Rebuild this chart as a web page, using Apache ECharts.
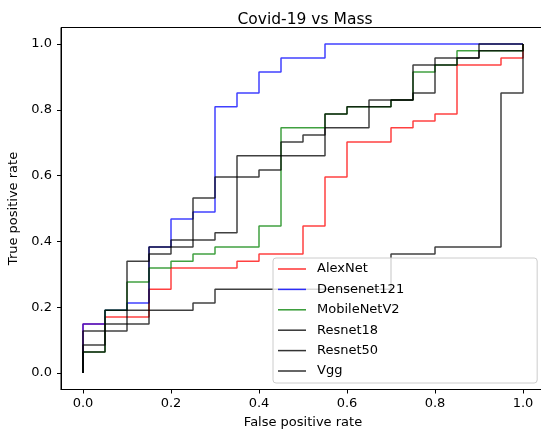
<!DOCTYPE html>
<html>
<head>
<meta charset="utf-8">
<script src="https://cdn.jsdelivr.net/npm/echarts@6/dist/echarts.min.js"></script>
<style>
  html, body { margin: 0; padding: 0; background: #fff; }
  #main { width: 541px; height: 434px; }
</style>
</head>
<body>
<div id="main"></div>
<script>
// ROC corner points (fpr, tpr)
const alexnetFpr = [0, 0, 0.05, 0.05, 0.15, 0.15, 0.2, 0.2, 0.35, 0.35, 0.4, 0.4, 0.5, 0.5, 0.55, 0.55, 0.6, 0.6, 0.7, 0.7, 0.75, 0.75, 0.8, 0.8, 0.85, 0.85, 0.95, 0.95, 1, 1]
const alexnetTpr = [0, 0.149, 0.149, 0.170, 0.170, 0.255, 0.255, 0.319, 0.319, 0.340, 0.340, 0.362, 0.362, 0.447, 0.447, 0.596, 0.596, 0.702, 0.702, 0.745, 0.745, 0.766, 0.766, 0.787, 0.787, 0.936, 0.936, 0.957, 0.957, 1]

const densenetFpr = [0, 0, 0.05, 0.05, 0.1, 0.1, 0.15, 0.15, 0.2, 0.2, 0.25, 0.25, 0.3, 0.3, 0.35, 0.35, 0.4, 0.4, 0.45, 0.45, 0.55, 0.55, 1]
const densenetTpr = [0, 0.149, 0.149, 0.191, 0.191, 0.213, 0.213, 0.383, 0.383, 0.468, 0.468, 0.489, 0.489, 0.809, 0.809, 0.851, 0.851, 0.915, 0.915, 0.957, 0.957, 1, 1]

const mobilenetFpr = [0, 0, 0.05, 0.05, 0.1, 0.1, 0.15, 0.15, 0.2, 0.2, 0.25, 0.25, 0.3, 0.3, 0.4, 0.4, 0.45, 0.45, 0.55, 0.55, 0.6, 0.6, 0.7, 0.7, 0.75, 0.75, 0.8, 0.8, 0.85, 0.85, 1, 1]
const mobilenetTpr = [0, 0.064, 0.064, 0.191, 0.191, 0.277, 0.277, 0.319, 0.319, 0.340, 0.340, 0.362, 0.362, 0.383, 0.383, 0.447, 0.447, 0.745, 0.745, 0.787, 0.787, 0.809, 0.809, 0.830, 0.830, 0.915, 0.915, 0.936, 0.936, 0.979, 0.979, 1]

const resnet18Fpr = [0, 0, 0.1, 0.1, 0.15, 0.15, 0.2, 0.2, 0.3, 0.3, 0.35, 0.35, 0.55, 0.55, 0.65, 0.65, 0.75, 0.75, 0.8, 0.8, 0.9, 0.9, 1]
const resnet18Tpr = [0, 0.128, 0.128, 0.340, 0.340, 0.362, 0.362, 0.404, 0.404, 0.426, 0.426, 0.660, 0.660, 0.745, 0.745, 0.830, 0.830, 0.851, 0.851, 0.957, 0.957, 1, 1]

const resnet50Fpr = [0, 0, 0.05, 0.05, 0.15, 0.15, 0.25, 0.25, 0.3, 0.3, 0.4, 0.4, 0.45, 0.45, 0.5, 0.5, 0.55, 0.55, 0.6, 0.6, 0.7, 0.7, 0.75, 0.75, 0.85, 0.85, 0.9, 0.9, 1, 1]
const resnet50Tpr = [0, 0.085, 0.085, 0.149, 0.149, 0.383, 0.383, 0.532, 0.532, 0.596, 0.596, 0.617, 0.617, 0.702, 0.702, 0.723, 0.723, 0.787, 0.787, 0.809, 0.809, 0.830, 0.830, 0.936, 0.936, 0.957, 0.957, 0.979, 0.979, 1]

const vggFpr = [0, 0, 0.05, 0.05, 0.25, 0.25, 0.3, 0.3, 0.7, 0.7, 0.8, 0.8, 0.95, 0.95, 1, 1]
const vggTpr = [0, 0.064, 0.064, 0.191, 0.191, 0.213, 0.213, 0.255, 0.255, 0.362, 0.362, 0.383, 0.383, 0.851, 0.851, 1]

const tickValues = [0, 0.2, 0.4, 0.6, 0.8, 1.0]

const models = [
  { name: 'AlexNet', color: '#ff0000', fpr: alexnetFpr, tpr: alexnetTpr },
  { name: 'Densenet121', color: '#0000ff', fpr: densenetFpr, tpr: densenetTpr },
  { name: 'MobileNetV2', color: '#008000', fpr: mobilenetFpr, tpr: mobilenetTpr },
  { name: 'Resnet18', color: '#000000', fpr: resnet18Fpr, tpr: resnet18Tpr },
  { name: 'Resnet50', color: '#000000', fpr: resnet50Fpr, tpr: resnet50Tpr },
  { name: 'Vgg', color: '#000000', fpr: vggFpr, tpr: vggTpr },
]

const font = 'DejaVu Sans'

const makeAxis = (name, nameGap, labelMargin) => ({
  type: 'value',
  min: -0.05,
  max: 1.05,
  name: name,
  nameLocation: 'middle',
  nameGap: nameGap,
  nameTextStyle: { fontFamily: font, fontSize: 13, color: '#000' },
  axisLine: { show: true, onZero: false, lineStyle: { color: '#000', width: 1 } },
  axisTick: { show: true, length: 4, customValues: tickValues, lineStyle: { color: '#000' } },
  axisLabel: {
    customValues: tickValues,
    fontFamily: font, fontSize: 13, color: '#000', margin: labelMargin,
    formatter: v => v.toFixed(1)
  },
  splitLine: { show: false }
})

const option = {
  animation: false,
  backgroundColor: '#fff',
  title: {
    text: 'Covid-19 vs Mass',
    left: 300,
    textAlign: 'center',
    top: 7,
    textStyle: { fontFamily: font, fontSize: 15.5, fontWeight: 'normal', color: '#000' }
  },
  grid: {
    left: 61, top: 27.5, width: 484, height: 362,
    outerBoundsMode: 'none',
    containLabel: false,
    show: true, borderColor: '#000', borderWidth: 1, backgroundColor: 'transparent'
  },
  xAxis: makeAxis('False positive rate', 27, 8),
  yAxis: makeAxis('True positive rate', 30, 9),
  legend: {
    orient: 'vertical',
    left: 273,
    top: 258,
    icon: 'rect',
    itemWidth: 28,
    itemHeight: 1.5,
    itemGap: 6.4,
    padding: [4, 133, 5, 5],
    backgroundColor: 'rgba(255,255,255,0.8)',
    borderColor: '#cccccc',
    borderWidth: 1,
    borderRadius: 3,
    itemStyle: { opacity: 0.8 },
    textStyle: { fontFamily: font, fontSize: 13, lineHeight: 14, color: '#000', padding: [0, 0, 0, 6] },
    data: models.map(m => m.name)
  },
  series: models.map(m => ({
    name: m.name,
    type: 'line',
    symbol: 'none',
    data: m.fpr.map((x, i) => [x, m.tpr[i]]),
    lineStyle: { color: m.color, width: 1.5, opacity: 0.75 },
    itemStyle: { color: m.color }
  }))
}

const myChart = echarts.init(document.getElementById('main'))
myChart.setOption(option)
</script>
</body>
</html>
